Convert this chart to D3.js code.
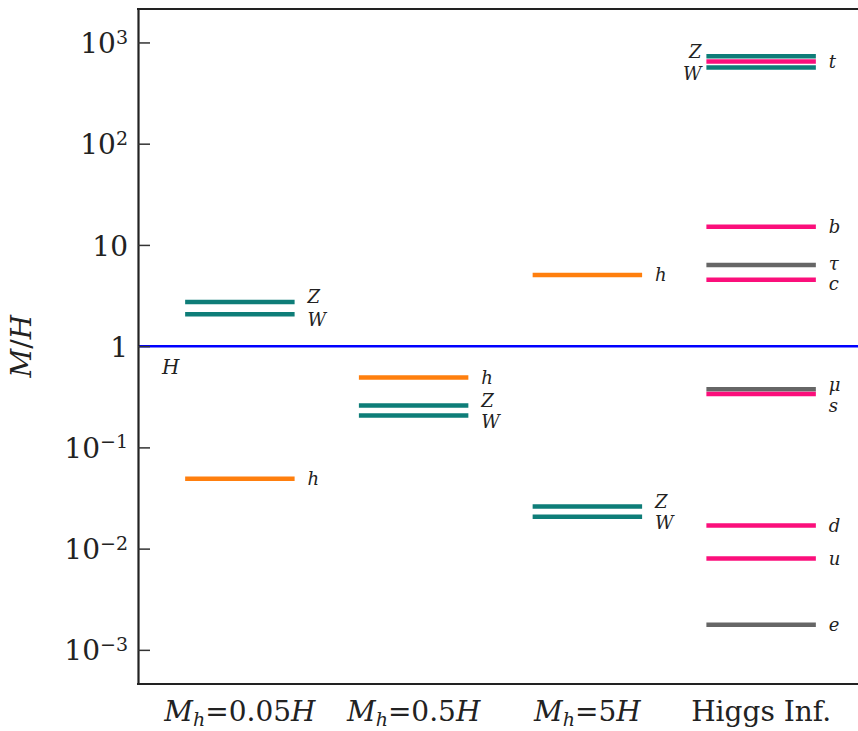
<!DOCTYPE html>
<html>
<head>
<meta charset="utf-8">
<script src="https://cdn.jsdelivr.net/npm/d3@7"></script>
<style>
  body { margin: 0; background: #fff; }
  svg { display: block; }
</style>
</head>
<body>
<div id="chart"></div>
<script>
// categories on the x axis
const categories = ["m005", "m05", "m5", "inf"];
const catLabels = [
  [["M", "i"], ["h", "sub"], ["=0.05", ""], ["H", "i"]],
  [["M", "i"], ["h", "sub"], ["=0.5", ""], ["H", "i"]],
  [["M", "i"], ["h", "sub"], ["=5", ""], ["H", "i"]],
  [["Higgs Inf.", ""]]
];

// y ticks and their labels (base, exponent)
const yTicks = [1e-3, 1e-2, 1e-1, 1, 10, 100, 1000];
const yTickLabels = [["10", "−3"], ["10", "−2"], ["10", "−1"], ["1", ""], ["10", ""], ["10", "2"], ["10", "3"]];

// M/H per category
const massZ = [2.73, 0.26, 0.026, 731];
const massW = [2.07, 0.207, 0.0207, 565];
const massHiggs = [0.049, 0.49, 5.05];          // first three categories
const quarkNames = ["t", "b", "c", "s", "d", "u"];
const quarkValues = [649, 15.1, 4.53, 0.337, 0.0169, 0.0080];
const leptonNames = ["τ", "μ", "e"];
const leptonValues = [6.34, 0.375, 0.00177];

const COLOR = { gauge: "#0e7d78", higgs: "#ff7f0e", quark: "#fb0f7b", lepton: "#666666" };
const labelDy = { Z: -5, W: 6, s: 12, "μ": -5, "τ": -1, c: 4 };

// build rows
const rows = [];
categories.forEach((c, i) => {
  rows.push({ cat: c, name: "Z", v: massZ[i], kind: "gauge" });
  rows.push({ cat: c, name: "W", v: massW[i], kind: "gauge" });
});
leptonNames.forEach((n, i) => rows.push({ cat: "inf", name: n, v: leptonValues[i], kind: "lepton" }));
quarkNames.forEach((n, i) => rows.push({ cat: "inf", name: n, v: quarkValues[i], kind: "quark" }));
massHiggs.forEach((v, i) => rows.push({ cat: categories[i], name: "h", v, kind: "higgs" }));

const W = 858, H = 731;
const M = { t: 9, l: 138, b: 47 };
const svg = d3.select("#chart").append("svg").attr("width", W).attr("height", H);

const x = d3.scaleBand().domain(categories).range([153, 848]).padding(0);
const y = d3.scaleLog().domain([4.6e-4, 2140]).range([H - M.b, M.t]);

const serif = "'DejaVu Serif', serif";

// blue reference line at M = H
svg.append("line")
  .attr("x1", M.l).attr("x2", W)
  .attr("y1", y(1)).attr("y2", y(1))
  .attr("stroke", "#0000ff").attr("stroke-width", 2.5);

svg.append("text")
  .attr("x", 162).attr("y", y(1) + 28)
  .attr("font-family", serif).attr("font-style", "italic")
  .attr("font-size", 20).attr("fill", "#222")
  .text("H");

// levels
const lx0 = d => x(d.cat) + x.bandwidth() * 0.185;
const lx1 = d => x(d.cat) + x.bandwidth() * 0.815;

svg.append("g").selectAll("line")
  .data(rows)
  .join("line")
  .attr("x1", lx0).attr("x2", lx1)
  .attr("y1", d => y(d.v)).attr("y2", d => y(d.v))
  .attr("stroke", d => COLOR[d.kind])
  .attr("stroke-width", 4.5);

// level labels
svg.append("g").selectAll("text")
  .data(rows)
  .join("text")
  .attr("x", d => (d.cat === "inf" && d.kind === "gauge") ? lx0(d) - 5 : lx1(d) + 13)
  .attr("y", d => y(d.v) + (labelDy[d.name] || 0))
  .attr("dy", "0.35em")
  .attr("text-anchor", d => (d.cat === "inf" && d.kind === "gauge") ? "end" : "start")
  .attr("font-family", serif).attr("font-style", "italic")
  .attr("font-size", 18).attr("fill", "#222")
  .text(d => d.name);

// y axis
const yAxis = svg.append("g")
  .attr("transform", `translate(${M.l},0)`)
  .call(d3.axisLeft(y).tickValues(yTicks).tickSize(-12).tickSizeOuter(0).tickPadding(10).tickFormat(""));
yAxis.select(".domain").attr("stroke", "#222").attr("stroke-width", 2.2);
yAxis.selectAll(".tick line").attr("stroke", "#333").attr("stroke-width", 1.5);
yAxis.selectAll(".tick text").each(function (d, i) {
  const t = d3.select(this);
  const [base, exp] = yTickLabels[i];
  t.attr("font-family", serif).attr("font-size", 28).attr("fill", "#222").attr("dy", "0.36em");
  t.append("tspan").text(base);
  if (exp) t.append("tspan").attr("dy", "-0.5em").attr("font-size", 19).text(exp);
});

// x axis
const xAxis = svg.append("g")
  .attr("transform", `translate(0,${H - M.b})`)
  .call(d3.axisBottom(x).tickSize(0).tickPadding(17).tickFormat(""));
xAxis.select(".domain").remove();
xAxis.selectAll(".tick text").each(function (d, i) {
  const t = d3.select(this);
  t.attr("font-family", serif).attr("font-size", 28).attr("fill", "#222");
  let shifted = false;
  catLabels[i].forEach(([s, st]) => {
    const sp = t.append("tspan").text(s);
    if (st === "i") sp.attr("font-style", "italic");
    if (st === "sub") { sp.attr("font-style", "italic").attr("font-size", 19).attr("dy", 5); shifted = true; }
    if (st === "" && shifted) { sp.attr("dy", -5); shifted = false; }
  });
});

// frame: bottom and top
svg.append("line")
  .attr("x1", M.l - 1).attr("x2", W).attr("y1", H - M.b).attr("y2", H - M.b)
  .attr("stroke", "#222").attr("stroke-width", 2.2);
svg.append("line")
  .attr("x1", M.l - 1).attr("x2", W).attr("y1", M.t).attr("y2", M.t)
  .attr("stroke", "#222").attr("stroke-width", 2.2);

// y label
svg.append("text")
  .attr("transform", `translate(31,${y(1)}) rotate(-90)`)
  .attr("text-anchor", "middle")
  .attr("font-family", serif).attr("font-size", 28).attr("fill", "#222")
  .html('<tspan font-style="italic">M</tspan>/<tspan font-style="italic">H</tspan>');
</script>
</body>
</html>
